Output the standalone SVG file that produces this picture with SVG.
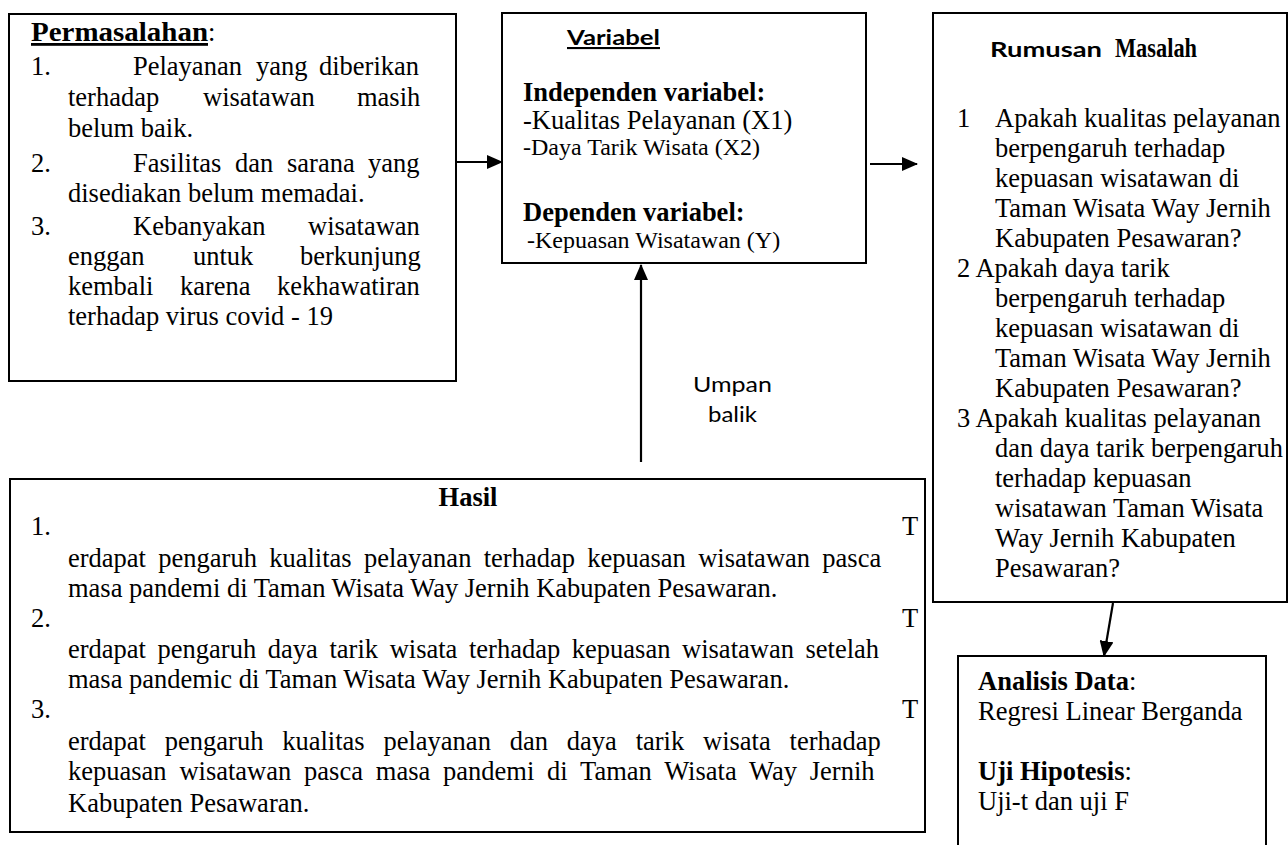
<svg xmlns="http://www.w3.org/2000/svg" width="1288" height="845" viewBox="0 0 1288 845">
<style>
.box{fill:#fff;stroke:#000;stroke-width:2}
.t{font-family:"Liberation Serif","Times New Roman",serif;font-size:26.5px;fill:#000}
.m{font-size:24px}
.b{font-weight:bold}
.s{font-family:Lato,"Open Sans","Liberation Sans",sans-serif;fill:#000}
.conn{stroke:#000;stroke-width:2.2;fill:none}
</style>
<defs>
<marker id="ah" markerUnits="userSpaceOnUse" markerWidth="16" markerHeight="14" refX="15" refY="7" orient="auto">
<path d="M0,0 L16,7 L0,14 Z" fill="#000"/>
</marker>
</defs>
<rect width="1288" height="845" fill="#fff"/>

<g id="connectors">
<line class="conn" x1="456" y1="162" x2="502" y2="162" marker-end="url(#ah)"/>
<line class="conn" x1="870" y1="164" x2="917" y2="164" marker-end="url(#ah)"/>
<line class="conn" x1="641" y1="462" x2="641" y2="265" marker-end="url(#ah)"/>
<line class="conn" x1="1113" y1="603" x2="1104" y2="656" marker-end="url(#ah)"/>
<text class="s" font-size="22" x="693" y="392" textLength="79" lengthAdjust="spacingAndGlyphs">Umpan</text>
<text class="s" font-size="22" x="708" y="422" textLength="49" lengthAdjust="spacingAndGlyphs">balik</text>
</g>

<g id="permasalahan">
<rect class="box" x="9" y="14" width="447" height="367"/>
<text class="t" x="31" y="41"><tspan class="b" font-size="28" text-decoration="underline" textLength="177" lengthAdjust="spacingAndGlyphs">Permasalahan</tspan>:</text>
<text class="t" x="31" y="75">1.</text>
<text class="t" x="133" y="75">Pelayanan</text><text class="t" x="256" y="75">yang</text><text class="t" x="319" y="75">diberikan</text>
<text class="t" x="68" y="106">terhadap</text><text class="t" x="203" y="106">wisatawan</text><text class="t" x="357" y="106">masih</text>
<text class="t" x="68" y="137">belum baik.</text>
<text class="t" x="31" y="172">2.</text>
<text class="t" x="133" y="172">Fasilitas</text><text class="t" x="235" y="172">dan</text><text class="t" x="287" y="172">sarana</text><text class="t" x="368" y="172">yang</text>
<text class="t" x="68" y="202">disediakan belum memadai.</text>
<text class="t" x="31" y="235">3.</text>
<text class="t" x="133" y="235">Kebanyakan</text><text class="t" x="308" y="235">wisatawan</text>
<text class="t" x="68" y="265">enggan</text><text class="t" x="193" y="265">untuk</text><text class="t" x="300" y="265">berkunjung</text>
<text class="t" x="68" y="295">kembali</text><text class="t" x="180" y="295">karena</text><text class="t" x="277" y="295">kekhawatiran</text>
<text class="t" x="68" y="325">terhadap virus covid - 19</text>
</g>

<g id="variabel">
<rect class="box" x="502" y="13" width="364" height="250"/>
<text class="s b" font-size="21" x="567" y="45" text-decoration="underline" textLength="93" lengthAdjust="spacingAndGlyphs">Variabel</text>
<text class="t b" x="523" y="101">Independen variabel:</text>
<text class="t" x="523" y="129">-Kualitas Pelayanan (X1)</text>
<text class="t m" x="523" y="155">-Daya Tarik Wisata (X2)</text>
<text class="t b" x="523" y="221">Dependen variabel:</text>
<text class="t m" x="527" y="248">-Kepuasan Wisatawan (Y)</text>
</g>

<g id="rumusan">
<rect class="box" x="933" y="13" width="354" height="589"/>
<text x="990" y="57"><tspan class="s b" font-size="21" textLength="112" lengthAdjust="spacingAndGlyphs">Rumusan</tspan><tspan class="t b" font-size="23" x="1115" textLength="82" lengthAdjust="spacingAndGlyphs">Masalah</tspan></text>
<text class="t" x="957" y="127">1</text>
<text class="t" x="995" y="127">Apakah kualitas pelayanan</text>
<text class="t" x="995" y="157">berpengaruh terhadap</text>
<text class="t" x="995" y="187">kepuasan wisatawan di</text>
<text class="t" x="995" y="217">Taman Wisata Way Jernih</text>
<text class="t" x="995" y="247">Kabupaten Pesawaran?</text>
<text class="t" x="957" y="277">2 Apakah daya tarik</text>
<text class="t" x="995" y="307">berpengaruh terhadap</text>
<text class="t" x="995" y="337">kepuasan wisatawan di</text>
<text class="t" x="995" y="367">Taman Wisata Way Jernih</text>
<text class="t" x="995" y="397">Kabupaten Pesawaran?</text>
<text class="t" x="957" y="427">3 Apakah kualitas pelayanan</text>
<text class="t" x="995" y="457" textLength="288" lengthAdjust="spacingAndGlyphs">dan daya tarik berpengaruh</text>
<text class="t" x="995" y="487">terhadap kepuasan</text>
<text class="t" x="995" y="517">wisatawan Taman Wisata</text>
<text class="t" x="995" y="547">Way Jernih Kabupaten</text>
<text class="t" x="995" y="577">Pesawaran?</text>
</g>

<g id="hasil">
<rect class="box" x="10" y="479" width="915" height="353"/>
<text class="t b" x="468" y="506" text-anchor="middle">Hasil</text>
<text class="t" x="31" y="535">1.</text>
<text class="t" x="902" y="535">T</text>
<text class="t" x="68" y="567" style="word-spacing:5.7px">erdapat pengaruh kualitas pelayanan terhadap kepuasan wisatawan pasca</text>
<text class="t" x="68" y="597">masa pandemi di Taman Wisata Way Jernih Kabupaten Pesawaran.</text>
<text class="t" x="31" y="627">2.</text>
<text class="t" x="902" y="627">T</text>
<text class="t" x="68" y="658" style="word-spacing:5px">erdapat pengaruh daya tarik wisata terhadap kepuasan wisatawan setelah</text>
<text class="t" x="68" y="688">masa pandemic di Taman Wisata Way Jernih Kabupaten Pesawaran.</text>
<text class="t" x="31" y="718">3.</text>
<text class="t" x="902" y="718">T</text>
<text class="t" x="68" y="750" style="word-spacing:12.2px">erdapat pengaruh kualitas pelayanan dan daya tarik wisata terhadap</text>
<text class="t" x="68" y="780" style="word-spacing:6.2px">kepuasan wisatawan pasca masa pandemi di Taman Wisata Way Jernih</text>
<text class="t" x="68" y="812">Kabupaten Pesawaran.</text>
</g>

<g id="analisis">
<rect class="box" x="958" y="656" width="308" height="220"/>
<text class="t" x="978" y="690"><tspan class="b">Analisis Data</tspan>:</text>
<text class="t" x="978" y="720">Regresi Linear Berganda</text>
<text class="t" x="978" y="780"><tspan class="b">Uji Hipotesis</tspan>:</text>
<text class="t" x="978" y="810">Uji-t dan uji F</text>
</g>
</svg>
